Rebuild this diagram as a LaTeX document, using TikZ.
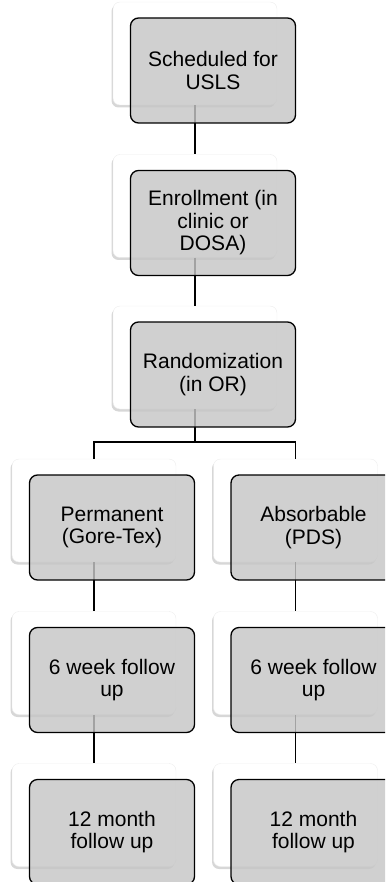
\documentclass[tikz,border=0pt]{standalone}
\usepackage{fontspec}
\setmainfont{Liberation Sans}
\usepackage{tikz}
\usetikzlibrary{positioning,shadows}

\definecolor{boxgray}{RGB}{198,198,198}

\tikzset{
	back/.style={rectangle, rounded corners=7pt, fill=white, draw=black!7, line width=0.4pt,
		minimum width=164pt, minimum height=103pt, inner sep=0pt,
		drop shadow={shadow xshift=-1.5pt, shadow yshift=-2.5pt, fill=black!45, opacity=0.35}},
	front/.style={rectangle, rounded corners=8pt, draw=black, line width=1.3pt,
		fill=boxgray, fill opacity=0.82, text opacity=1, draw opacity=1,
		minimum width=165pt, minimum height=105pt, inner sep=0pt, align=center,
		font=\fontsize{21}{22.5}\selectfont},
	link/.style={line width=1.3pt}
}

\begin{document}
\begin{tikzpicture}[x=1pt, y=-1pt]
			\useasboundingbox (0,0) rectangle (385,882);
			\clip (0,0) rectangle (385,882);

			% white boxes behind
			\node[back] (schedbk) at (195,53.5) {};
			\node[back] (enrolbk) at (195,206) {};
			\node[back] (randbk) at (195,357.5) {};

			\node[back] (permbk) at (94,510.5) {};
			\node[back] (absbbk) at (295.5,510.5) {};
			\node[back] (weekpbk) at (94,663) {};
			\node[back] (weekabk) at (295.5,663) {};
			\node[back] (monthpbk) at (94,815) {};
			\node[back] (monthabk) at (295.5,815) {};

			% connectors
			\draw[link] (schedbk.south) -- (enrolbk.north);
			\draw[link] (enrolbk.south) -- (randbk.north);

			\coordinate (split) at (195,442);
			\draw[link] (randbk.south) -- (split);
			\draw[link] (permbk.north) |- (split) -| (absbbk.north);

			\draw[link] (permbk.south) -- (weekpbk.north);
			\draw[link] (weekpbk.south) -- (monthpbk.north);
			\draw[link] (absbbk.south) -- (weekabk.north);
			\draw[link] (weekabk.south) -- (monthabk.north);

			% gray boxes in front
			\node[front] (sched) at ([shift={(18,17)}]schedbk) {Scheduled for\\USLS};
			\node[front] (enrol) at ([shift={(18,17)}]enrolbk) {Enrollment (in\\clinic or\\DOSA)};
			\node[front] (rand) at ([shift={(18,17)}]randbk) {Randomization\\(in OR)};

			\node[front] (perm) at ([shift={(18,17)}]permbk) {Permanent\\(Gore-Tex)};
			\node[front] (absb) at ([shift={(18,17)}]absbbk) {Absorbable\\(PDS)};
			\node[front] (weekp) at ([shift={(18,17)}]weekpbk) {6 week follow\\up};
			\node[front] (weeka) at ([shift={(18,17)}]weekabk) {6 week follow\\up};
			\node[front] (monthp) at ([shift={(18,17)}]monthpbk) {12 month\\follow up};
			\node[front] (montha) at ([shift={(18,17)}]monthabk) {12 month\\follow up};
\end{tikzpicture}
\end{document}
